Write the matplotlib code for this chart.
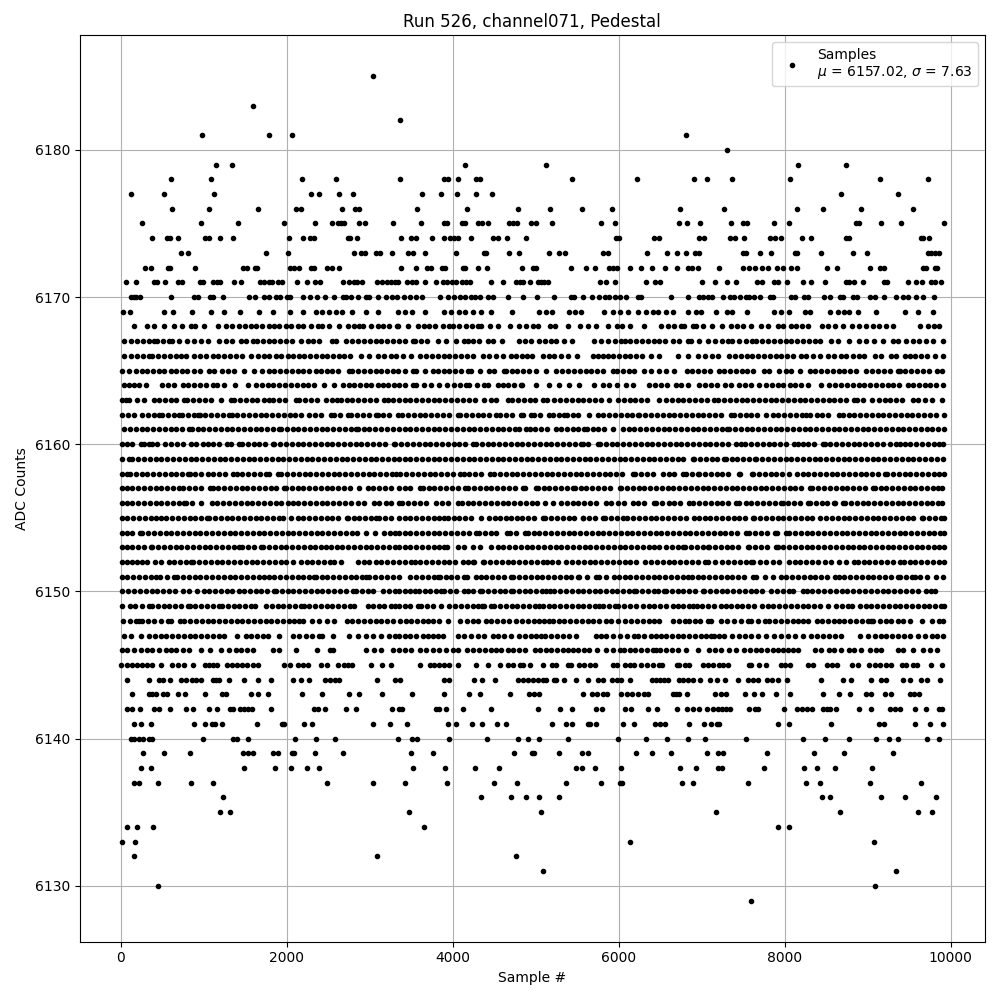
import matplotlib
matplotlib.use('Agg')
import matplotlib.pyplot as plt

# sample numbers, one list per ADC code
s6129 = [7600]
s6130 = [454, 9090]
s6131 = [5090, 9340]
s6132 = [165, 3083, 4760]
s6133 = [13, 177, 9080, 6130]
s6134 = [80, 201, 382, 3650, 7920, 8050]
s6135 = [1190, 1311, 3469, 5063, 7170, 8665, 9606, 9775]
s6136 = [1226, 4338, 4700, 4880, 5037, 5276, 8448, 8545, 9160, 9449, 9823]
s6137 = [153, 225, 454, 840, 1105, 2480, 3043, 3421, 3928, 4494, 4772, 5361, 5783, 6012, 6036, 6760, 6893, 7556, 8255, 8424, 9027, 9642]
s6138 = [249, 358, 1479, 1853, 2046, 2239, 2384, 3518, 3903, 4265, 4555, 5481, 5554, 5711, 6024, 6736, 6933, 7194, 7242, 7749, 8231, 8388, 8605, 9051]
s6139 = [273, 515, 828, 1467, 1528, 1588, 1829, 1889, 2058, 2082, 2336, 2673, 3493, 3759, 4736, 4953, 4977, 5283, 5554, 5626, 6205, 6398, 6627, 7061, 7194, 7254, 7785, 8352, 8714, 9305]
s6140 = [117, 165, 225, 273, 334, 370, 985, 1347, 1395, 1528, 2094, 2348, 2577, 3337, 3505, 3566, 3952, 4410, 4784, 4904, 5037, 5385, 5988, 6326, 6579, 6832, 7037, 7532, 8219, 8484, 8774, 9100, 9256, 9365, 9714, 9859]
s6141 = [153, 249, 358, 888, 1009, 1093, 1130, 1214, 1636, 1938, 1962, 2203, 2300, 3035, 3240, 3445, 3940, 4036, 4229, 4350, 4531, 4639, 5200, 5361, 5433, 5626, 5650, 5723, 6048, 6181, 6434, 6494, 6555, 6844, 7025, 7110, 7182, 7206, 7917, 8050, 8557, 9136, 9196, 9570, 9751, 9907]
s6142 = [80, 129, 237, 406, 466, 587, 780, 876, 1057, 1154, 1311, 1347, 1431, 1479, 1528, 1576, 1805, 2324, 2372, 2456, 2710, 2830, 3264, 3349, 3385, 3795, 3831, 3915, 4121, 4458, 5025, 5288, 5433, 5723, 5795, 6072, 6145, 6350, 6458, 6700, 6820, 6893, 6965, 7061, 7134, 7194, 7242, 7291, 7339, 7568, 7640, 7676, 7990, 8147, 8207, 8267, 8328, 8460, 8508, 8545, 8617, 8894, 9039, 9268, 9329, 9389, 9570, 9702, 9859, 9895]
s6143 = [140, 340, 380, 420, 510, 560, 685, 770, 1010, 1215, 1265, 1565, 1650, 1770, 2180, 2420, 2745, 2865, 3145, 3505, 3890, 4200, 4325, 4690, 4915, 4985, 5045, 5566, 5674, 5740, 5807, 5855, 6030, 6095, 6160, 6229, 6310, 6350, 6650, 6690, 6730, 6820, 7160, 7230, 7295, 7520, 7630, 7725, 7890, 8060, 8460, 8650, 8785, 8975, 9040, 9210, 9285, 9505, 9560, 9615]
s6144 = [70, 335, 455, 505, 590, 725, 785, 860, 905, 965, 1105, 1145, 1185, 1300, 1490, 1650, 1815, 2070, 2170, 2265, 2460, 2520, 2580, 2635, 3085, 3310, 3370, 3900, 3955, 4255, 4350, 4505, 4785, 4845, 4905, 4965, 5025, 5085, 5125, 5225, 5250, 5335, 5480, 5630, 5750, 5810, 5920, 5975, 6030, 6135, 6400, 6450, 6500, 6545, 6590, 6725, 6780, 6835, 6890, 6980, 7100, 7180, 7280, 7435, 7555, 7615, 7675, 7785, 7850, 7920, 8025, 8435, 8700, 8800, 9040, 9160, 9215, 9425, 9510, 9640, 9720, 9870]
s6145 = [0, 80, 130, 190, 255, 315, 375, 480, 615, 690, 765, 865, 1015, 1060, 1105, 1155, 1285, 1345, 1400, 1460, 1515, 1590, 1650, 1970, 2040, 2130, 2190, 2250, 2410, 2490, 2615, 2685, 2735, 2780, 3010, 3150, 3260, 3600, 3720, 3780, 3840, 3900, 3960, 4060, 4275, 4420, 4565, 4665, 4725, 4805, 4845, 4925, 5085, 5200, 5250, 5390, 5430, 5520, 5585, 5650, 5710, 5930, 5980, 6070, 6130, 6190, 6270, 6340, 6410, 6480, 6525, 6700, 6725, 6800, 6850, 7010, 7075, 7140, 7205, 7260, 7315, 7575, 7600, 7690, 7780, 7960, 8000, 8065, 8280, 8345, 8505, 8570, 8635, 8815, 8880, 9020, 9085, 9150, 9215, 9285, 9415, 9465, 9550, 9600, 9765, 9895]
s6146 = [13, 80, 160, 240, 310, 380, 460, 540, 600, 670, 750, 825, 965, 1075, 1205, 1305, 1385, 1450, 1520, 1590, 1830, 1910, 2110, 2370, 2520, 2555, 2955, 3055, 3135, 3280, 3350, 3420, 3500, 3600, 3680, 3760, 3840, 3920, 4000, 4060, 4170, 4250, 4320, 4390, 4460, 4520, 4580, 4660, 4730, 4800, 4875, 4990, 5050, 5120, 5190, 5260, 5325, 5385, 5450, 5515, 5580, 5645, 5735, 5850, 5930, 6010, 6060, 6130, 6200, 6270, 6340, 6410, 6450, 6500, 6570, 6640, 6710, 6810, 6950, 7090, 7160, 7230, 7330, 7410, 7510, 7580, 7650, 7720, 7790, 7860, 7915, 7985, 8040, 8095, 8155, 8360, 8440, 8540, 8600, 8680, 8780, 8840, 8920, 9025, 9095, 9165, 9365, 9425, 9550, 9670, 9750, 9830]
s6147 = [40, 120, 240, 340, 410, 480, 550, 620, 690, 760, 830, 900, 970, 1040, 1110, 1180, 1245, 1405, 1505, 1570, 1640, 1710, 1770, 1910, 2070, 2150, 2230, 2310, 2390, 2430, 2555, 2745, 2855, 2955, 3045, 3135, 3235, 3300, 3355, 3420, 3480, 3560, 3640, 3700, 3760, 3820, 3880, 4060, 4140, 4220, 4300, 4380, 4480, 4540, 4620, 4700, 4800, 4870, 4940, 5000, 5065, 5115, 5185, 5255, 5325, 5400, 5485, 5725, 5790, 5850, 5930, 6010, 6100, 6190, 6230, 6310, 6390, 6450, 6510, 6570, 6640, 6710, 6780, 6850, 6920, 6990, 7050, 7110, 7150, 7210, 7270, 7365, 7450, 7520, 7590, 7675, 7775, 7875, 7955, 8040, 8130, 8215, 8320, 8390, 8460, 8530, 8610, 8680, 8905, 9005, 9085, 9155, 9225, 9295, 9365, 9435, 9505, 9610, 9690, 9770, 9840, 9910]
s6148 = [30, 105, 180, 220, 260, 330, 400, 480, 565, 600, 715, 765, 835, 905, 975, 1045, 1115, 1185, 1255, 1325, 1395, 1465, 1535, 1605, 1675, 1745, 1815, 1885, 1955, 2025, 2090, 2150, 2195, 2310, 2390, 2480, 2575, 2720, 2790, 2860, 2930, 3000, 3070, 3140, 3205, 3275, 3360, 3440, 3500, 3570, 3640, 3700, 3760, 3840, 3940, 4090, 4170, 4240, 4310, 4395, 4465, 4535, 4605, 4680, 4760, 4835, 4905, 4975, 5045, 5105, 5165, 5205, 5275, 5345, 5415, 5485, 5555, 5625, 5695, 5765, 5850, 5910, 5990, 6080, 6150, 6220, 6290, 6360, 6430, 6490, 6650, 6730, 6800, 6850, 6920, 6975, 7070, 7110, 7230, 7310, 7390, 7470, 7555, 7595, 7680, 7765, 7815, 7885, 7955, 8025, 8095, 8155, 8215, 8280, 8385, 8450, 8520, 8590, 8650, 8720, 8790, 8860, 8930, 9000, 9045, 9070, 9150, 9225, 9285, 9360, 9430, 9505, 9655, 9780, 9855, 9905]
s6149 = [10, 110, 175, 255, 340, 375, 445, 515, 585, 655, 725, 805, 830, 900, 970, 1040, 1110, 1185, 1220, 1290, 1360, 1430, 1500, 1570, 1620, 1750, 1820, 1890, 1960, 2030, 2100, 2170, 2210, 2270, 2340, 2410, 2480, 2550, 2620, 2690, 2760, 2815, 2975, 3045, 3115, 3175, 3255, 3310, 3355, 3420, 3490, 3580, 3620, 3690, 3760, 3860, 3950, 4030, 4100, 4170, 4240, 4300, 4355, 4380, 4460, 4500, 4570, 4640, 4710, 4780, 4850, 4920, 4990, 5045, 5085, 5155, 5225, 5295, 5365, 5435, 5505, 5575, 5645, 5715, 5765, 5805, 5880, 5950, 5990, 6060, 6130, 6210, 6290, 6360, 6430, 6500, 6570, 6650, 6710, 6780, 6850, 6900, 6940, 7000, 7075, 7150, 7230, 7290, 7350, 7420, 7490, 7560, 7630, 7725, 7795, 7865, 7935, 8005, 8075, 8145, 8215, 8285, 8355, 8425, 8520, 8615, 8690, 8760, 8815, 8905, 8975, 9045, 9115, 9185, 9255, 9325, 9395, 9465, 9535, 9605, 9675, 9745, 9815, 9885, 9915]
s6150 = [13, 90, 160, 230, 300, 370, 440, 510, 580, 650, 755, 825, 915, 1005, 1065, 1135, 1205, 1275, 1345, 1420, 1485, 1555, 1625, 1695, 1765, 1850, 1870, 1940, 2010, 2080, 2150, 2220, 2290, 2360, 2430, 2500, 2570, 2640, 2710, 2795, 2835, 2905, 2975, 3045, 3165, 3235, 3300, 3355, 3420, 3480, 3540, 3590, 3660, 3730, 3800, 3860, 3900, 3970, 4040, 4140, 4180, 4250, 4330, 4355, 4425, 4495, 4565, 4635, 4700, 4725, 4795, 4865, 4935, 5005, 5075, 5125, 5175, 5225, 5295, 5365, 5435, 5505, 5575, 5645, 5720, 5775, 5845, 5915, 5985, 6055, 6125, 6190, 6210, 6280, 6350, 6430, 6470, 6550, 6570, 6640, 6710, 6780, 6850, 6920, 7010, 7030, 7100, 7170, 7240, 7310, 7380, 7450, 7520, 7590, 7660, 7730, 7835, 7905, 7980, 8055, 8095, 8215, 8265, 8335, 8405, 8475, 8545, 8615, 8685, 8755, 8825, 8895, 8965, 9045, 9110, 9180, 9250, 9320, 9390, 9460, 9530, 9610, 9700, 9760, 9810]
s6151 = [13, 80, 150, 220, 290, 360, 420, 470, 560, 640, 680, 750, 820, 890, 960, 1030, 1100, 1170, 1240, 1310, 1380, 1450, 1520, 1590, 1660, 1730, 1780, 1850, 1920, 1990, 2060, 2130, 2200, 2270, 2330, 2350, 2420, 2490, 2560, 2630, 2700, 2770, 2840, 2910, 2955, 2995, 3065, 3135, 3205, 3275, 3355, 3490, 3560, 3630, 3700, 3770, 3820, 3845, 3915, 3985, 4055, 4140, 4170, 4280, 4335, 4405, 4475, 4545, 4615, 4700, 4730, 4800, 4870, 4940, 5010, 5080, 5150, 5220, 5290, 5360, 5430, 5505, 5525, 5615, 5725, 5760, 5850, 5945, 6000, 6070, 6140, 6210, 6280, 6350, 6420, 6490, 6560, 6630, 6700, 6770, 6830, 6880, 6950, 7020, 7090, 7160, 7230, 7300, 7370, 7440, 7510, 7615, 7660, 7760, 7865, 7950, 8020, 8090, 8160, 8230, 8300, 8370, 8440, 8510, 8610, 8650, 8720, 8790, 8860, 8930, 9000, 9070, 9140, 9210, 9280, 9365, 9385, 9460, 9530, 9575, 9635, 9720, 9820, 9910]
s6152 = [13, 70, 140, 200, 260, 310, 415, 480, 575, 645, 715, 785, 845, 875, 945, 1015, 1085, 1155, 1225, 1295, 1365, 1435, 1505, 1575, 1645, 1715, 1785, 1855, 1925, 1990, 2070, 2170, 2240, 2310, 2380, 2450, 2520, 2575, 2650, 2855, 2925, 2995, 3075, 3135, 3205, 3275, 3355, 3420, 3500, 3540, 3610, 3680, 3750, 3820, 3890, 3960, 4030, 4120, 4180, 4240, 4260, 4360, 4380, 4450, 4520, 4590, 4660, 4730, 4800, 4870, 4940, 5010, 5085, 5130, 5200, 5270, 5360, 5440, 5510, 5580, 5650, 5720, 5790, 5860, 5930, 6000, 6070, 6140, 6210, 6320, 6390, 6460, 6530, 6600, 6670, 6740, 6810, 6880, 6960, 7040, 7070, 7160, 7250, 7320, 7390, 7460, 7530, 7590, 7620, 7700, 7780, 7860, 7935, 8050, 8120, 8190, 8260, 8330, 8400, 8480, 8560, 8650, 8740, 8830, 8880, 8950, 9020, 9090, 9160, 9230, 9300, 9385, 9435, 9505, 9575, 9645, 9715, 9785, 9855, 9915]
s6153 = [13, 70, 140, 210, 280, 360, 380, 450, 520, 590, 660, 730, 800, 870, 940, 1010, 1080, 1150, 1220, 1290, 1360, 1430, 1460, 1530, 1600, 1695, 1715, 1785, 1855, 1925, 1995, 2065, 2135, 2205, 2275, 2345, 2415, 2470, 2530, 2600, 2670, 2740, 2810, 2880, 2950, 3020, 3090, 3160, 3230, 3300, 3355, 3420, 3490, 3560, 3630, 3700, 3770, 3840, 3900, 3930, 4060, 4130, 4250, 4330, 4455, 4540, 4610, 4680, 4750, 4820, 4890, 4960, 5030, 5100, 5170, 5240, 5310, 5380, 5450, 5520, 5590, 5660, 5730, 5800, 5870, 5940, 6010, 6080, 6150, 6220, 6290, 6360, 6430, 6490, 6570, 6640, 6710, 6770, 6800, 6870, 6940, 7010, 7070, 7090, 7160, 7230, 7300, 7370, 7440, 7555, 7575, 7645, 7715, 7785, 7895, 7915, 7985, 8055, 8125, 8195, 8265, 8335, 8405, 8475, 8545, 8615, 8685, 8760, 8820, 8890, 8960, 9030, 9100, 9170, 9240, 9310, 9380, 9450, 9520, 9590, 9660, 9730, 9800, 9860, 9915]
s6154 = [13, 70, 140, 230, 260, 330, 400, 470, 540, 610, 680, 750, 820, 890, 960, 1030, 1100, 1170, 1240, 1310, 1380, 1450, 1520, 1590, 1660, 1730, 1800, 1870, 1940, 2010, 2080, 2150, 2220, 2290, 2360, 2430, 2500, 2570, 2640, 2710, 2780, 2850, 2955, 3065, 3175, 3245, 3310, 3355, 3420, 3490, 3560, 3630, 3700, 3770, 3840, 3910, 3980, 4050, 4120, 4190, 4280, 4315, 4385, 4455, 4525, 4650, 4690, 4760, 4865, 4905, 4975, 5045, 5115, 5185, 5255, 5325, 5395, 5465, 5535, 5605, 5675, 5745, 5815, 5885, 5955, 6025, 6095, 6165, 6235, 6305, 6375, 6445, 6515, 6585, 6655, 6725, 6795, 6865, 6935, 7005, 7075, 7145, 7215, 7285, 7355, 7425, 7530, 7575, 7645, 7715, 7785, 7880, 7905, 8010, 8055, 8125, 8195, 8265, 8335, 8405, 8475, 8545, 8615, 8685, 8755, 8825, 8895, 8965, 9035, 9105, 9175, 9245, 9315, 9385, 9455, 9525, 9595, 9665, 9735, 9805, 9875, 9915]
s6155 = [13, 80, 150, 220, 290, 360, 430, 480, 550, 620, 690, 760, 830, 900, 970, 1035, 1065, 1135, 1205, 1275, 1345, 1415, 1485, 1555, 1625, 1695, 1765, 1835, 1910, 1950, 2050, 2130, 2200, 2270, 2340, 2410, 2480, 2550, 2620, 2720, 2735, 2805, 2875, 2945, 3015, 3075, 3115, 3185, 3255, 3355, 3420, 3490, 3560, 3630, 3700, 3770, 3840, 3900, 3940, 4010, 4080, 4150, 4220, 4340, 4435, 4505, 4575, 4640, 4700, 4770, 4840, 4910, 4980, 5085, 5115, 5185, 5255, 5325, 5395, 5465, 5565, 5575, 5645, 5715, 5805, 5840, 5910, 5980, 6050, 6100, 6175, 6245, 6315, 6385, 6455, 6525, 6595, 6665, 6735, 6805, 6910, 6965, 7035, 7105, 7175, 7245, 7315, 7385, 7455, 7525, 7615, 7635, 7705, 7775, 7845, 7915, 7985, 8055, 8125, 8195, 8265, 8335, 8420, 8500, 8570, 8640, 8710, 8780, 8850, 8920, 8990, 9060, 9130, 9200, 9270, 9340, 9410, 9480, 9550, 9650, 9670, 9740, 9810, 9880, 9915]
s6156 = [13, 70, 140, 210, 280, 350, 420, 490, 560, 630, 700, 765, 790, 860, 965, 1095, 1165, 1235, 1305, 1375, 1445, 1515, 1585, 1655, 1725, 1795, 1865, 1935, 2010, 2070, 2140, 2210, 2280, 2350, 2420, 2490, 2560, 2630, 2700, 2770, 2855, 2935, 3055, 3115, 3195, 3255, 3355, 3390, 3460, 3530, 3600, 3680, 3800, 3870, 3940, 4060, 4110, 4180, 4250, 4320, 4390, 4460, 4530, 4600, 4670, 4740, 4810, 4880, 4950, 5020, 5115, 5205, 5305, 5375, 5445, 5515, 5585, 5655, 5725, 5845, 5910, 5990, 6060, 6170, 6230, 6300, 6430, 6450, 6520, 6610, 6670, 6740, 6850, 6900, 6970, 7040, 7110, 7180, 7250, 7320, 7410, 7450, 7530, 7600, 7670, 7740, 7810, 7880, 7955, 7975, 8045, 8115, 8185, 8280, 8305, 8375, 8445, 8515, 8590, 8610, 8700, 8730, 8800, 8870, 8940, 9010, 9080, 9150, 9220, 9290, 9360, 9430, 9500, 9570, 9640, 9710, 9780, 9850, 9900]
s6157 = [13, 70, 140, 210, 280, 350, 420, 490, 560, 630, 705, 755, 825, 895, 965, 1075, 1105, 1175, 1245, 1315, 1385, 1455, 1525, 1595, 1665, 1735, 1805, 1875, 1970, 1990, 2060, 2130, 2200, 2270, 2340, 2410, 2480, 2550, 2620, 2690, 2760, 2870, 2975, 3045, 3115, 3185, 3255, 3355, 3420, 3490, 3600, 3640, 3710, 3780, 3850, 3920, 3990, 4060, 4150, 4185, 4255, 4325, 4395, 4465, 4535, 4605, 4675, 4745, 4845, 4865, 5005, 5025, 5095, 5165, 5235, 5305, 5375, 5445, 5470, 5540, 5610, 5680, 5750, 5820, 5890, 6010, 6030, 6100, 6170, 6240, 6310, 6380, 6450, 6520, 6590, 6660, 6730, 6800, 6870, 6940, 7010, 7080, 7150, 7220, 7290, 7360, 7430, 7500, 7570, 7640, 7710, 7780, 7850, 7920, 7990, 8060, 8130, 8200, 8305, 8335, 8405, 8475, 8545, 8615, 8685, 8755, 8825, 8895, 8965, 9065, 9085, 9155, 9225, 9295, 9365, 9435, 9505, 9575, 9645, 9715, 9785, 9850, 9890]
s6158 = [13, 80, 110, 180, 250, 320, 390, 460, 530, 600, 670, 740, 805, 830, 900, 970, 1045, 1115, 1185, 1255, 1355, 1395, 1465, 1535, 1605, 1675, 1750, 1780, 1900, 1935, 2005, 2075, 2145, 2215, 2285, 2355, 2425, 2495, 2565, 2635, 2705, 2775, 2845, 2915, 2985, 3055, 3125, 3195, 3265, 3320, 3370, 3440, 3510, 3580, 3650, 3720, 3790, 3860, 3930, 4000, 4090, 4130, 4200, 4270, 4340, 4450, 4500, 4570, 4640, 4710, 4780, 4850, 4920, 4990, 5060, 5130, 5200, 5270, 5340, 5410, 5480, 5550, 5620, 5690, 5760, 5830, 5900, 5970, 6040, 6170, 6200, 6270, 6340, 6410, 6530, 6600, 6670, 6770, 6815, 6885, 6950, 6970, 7040, 7110, 7180, 7250, 7320, 7445, 7465, 7605, 7620, 7690, 7760, 7830, 7900, 7970, 8055, 8145, 8215, 8285, 8355, 8425, 8495, 8565, 8635, 8705, 8775, 8845, 8915, 8985, 9055, 9125, 9205, 9235, 9305, 9375, 9445, 9515, 9585, 9655, 9725, 9795, 9865, 9915]
s6159 = [13, 100, 140, 210, 280, 350, 420, 490, 560, 630, 700, 770, 840, 910, 980, 1050, 1120, 1190, 1260, 1330, 1400, 1470, 1540, 1610, 1680, 1750, 1820, 1890, 1960, 2030, 2100, 2170, 2240, 2310, 2380, 2450, 2520, 2590, 2660, 2730, 2800, 2870, 2940, 3010, 3080, 3150, 3220, 3290, 3355, 3420, 3490, 3560, 3630, 3700, 3770, 3840, 3910, 3980, 4050, 4120, 4190, 4260, 4330, 4400, 4470, 4540, 4610, 4680, 4750, 4820, 4890, 4960, 5030, 5100, 5170, 5240, 5310, 5380, 5450, 5520, 5590, 5660, 5730, 5800, 5870, 5940, 6010, 6080, 6150, 6220, 6290, 6360, 6430, 6500, 6570, 6640, 6710, 6780, 6890, 6910, 6980, 7050, 7120, 7190, 7270, 7290, 7360, 7430, 7500, 7570, 7645, 7660, 7730, 7800, 7870, 7940, 8010, 8080, 8150, 8220, 8290, 8360, 8430, 8500, 8570, 8640, 8710, 8780, 8850, 8920, 8990, 9060, 9130, 9200, 9270, 9340, 9410, 9480, 9550, 9620, 9690, 9760, 9830, 9910]
s6160 = [13, 70, 140, 240, 280, 340, 370, 440, 535, 605, 675, 745, 845, 910, 985, 1045, 1115, 1185, 1275, 1325, 1425, 1460, 1530, 1600, 1670, 1740, 1830, 1850, 1920, 1990, 2060, 2130, 2200, 2270, 2340, 2410, 2480, 2550, 2620, 2690, 2760, 2830, 2900, 2970, 3040, 3110, 3180, 3295, 3300, 3380, 3450, 3520, 3590, 3660, 3730, 3800, 3870, 3940, 4010, 4080, 4150, 4240, 4280, 4350, 4420, 4490, 4560, 4630, 4700, 4770, 4840, 4910, 4980, 5050, 5120, 5190, 5260, 5330, 5400, 5470, 5545, 5565, 5635, 5745, 5775, 5845, 5915, 5985, 6055, 6125, 6195, 6265, 6335, 6405, 6475, 6545, 6615, 6685, 6755, 6825, 6895, 6965, 7035, 7105, 7175, 7245, 7315, 7410, 7470, 7525, 7595, 7665, 7735, 7805, 7875, 7945, 8015, 8115, 8155, 8215, 8285, 8355, 8460, 8480, 8550, 8620, 8690, 8760, 8830, 8900, 8970, 9040, 9110, 9180, 9265, 9345, 9385, 9445, 9515, 9585, 9655, 9725, 9795, 9865, 9910]
s6161 = [40, 110, 180, 250, 320, 390, 460, 530, 600, 670, 740, 825, 855, 925, 995, 1065, 1135, 1205, 1275, 1345, 1415, 1485, 1555, 1625, 1695, 1765, 1835, 1910, 1930, 2000, 2070, 2140, 2210, 2280, 2350, 2420, 2490, 2560, 2630, 2700, 2770, 2835, 2855, 2925, 2995, 3065, 3135, 3205, 3275, 3355, 3420, 3490, 3560, 3630, 3700, 3770, 3840, 3910, 3980, 4050, 4120, 4190, 4260, 4330, 4400, 4470, 4540, 4610, 4680, 4755, 4800, 4885, 4925, 4995, 5065, 5135, 5245, 5305, 5375, 5445, 5515, 5585, 5615, 5685, 5755, 5825, 5930, 6050, 6120, 6190, 6260, 6330, 6400, 6470, 6540, 6610, 6680, 6750, 6820, 6890, 6960, 7030, 7100, 7170, 7240, 7310, 7330, 7400, 7470, 7540, 7610, 7680, 7750, 7820, 7890, 7960, 8030, 8100, 8170, 8240, 8310, 8380, 8450, 8520, 8590, 8660, 8730, 8800, 8870, 8940, 9010, 9080, 9150, 9220, 9290, 9360, 9430, 9500, 9570, 9640, 9710, 9780, 9850, 9915]
s6162 = [13, 90, 160, 260, 330, 400, 460, 500, 570, 640, 700, 740, 810, 880, 925, 950, 1020, 1090, 1160, 1230, 1305, 1335, 1405, 1475, 1545, 1615, 1685, 1755, 1825, 1895, 1965, 2035, 2105, 2175, 2270, 2345, 2415, 2530, 2570, 2640, 2735, 2775, 2845, 2915, 2985, 3075, 3095, 3165, 3235, 3340, 3390, 3460, 3530, 3600, 3670, 3740, 3810, 3880, 3950, 4060, 4090, 4160, 4230, 4300, 4370, 4440, 4520, 4570, 4640, 4710, 4820, 4850, 4945, 4985, 5055, 5165, 5205, 5275, 5345, 5375, 5445, 5515, 5645, 5745, 5815, 5885, 5955, 6025, 6095, 6165, 6230, 6250, 6320, 6390, 6460, 6530, 6600, 6670, 6740, 6810, 6880, 6950, 7020, 7090, 7160, 7230, 7350, 7390, 7460, 7530, 7600, 7670, 7775, 7855, 7925, 7995, 8065, 8135, 8205, 8255, 8305, 8385, 8455, 8525, 8660, 8700, 8770, 8840, 8910, 8980, 9050, 9120, 9190, 9260, 9330, 9400, 9470, 9540, 9610, 9680, 9750, 9820, 9915]
s6163 = [13, 60, 100, 200, 280, 400, 460, 530, 600, 670, 765, 800, 870, 940, 1010, 1085, 1205, 1325, 1365, 1435, 1505, 1575, 1645, 1720, 1790, 1830, 1910, 1980, 2110, 2150, 2220, 2290, 2360, 2470, 2550, 2610, 2650, 2720, 2790, 2860, 2930, 3000, 3070, 3175, 3215, 3285, 3355, 3420, 3490, 3560, 3630, 3700, 3770, 3840, 3910, 3980, 4050, 4120, 4200, 4270, 4380, 4460, 4525, 4660, 4715, 4785, 4855, 4925, 4995, 5085, 5130, 5225, 5295, 5365, 5435, 5505, 5575, 5645, 5715, 5785, 5885, 5990, 6060, 6130, 6200, 6270, 6340, 6490, 6570, 6640, 6710, 6780, 6850, 6920, 6990, 7060, 7150, 7200, 7270, 7340, 7410, 7480, 7550, 7620, 7690, 7760, 7830, 7900, 7970, 8040, 8110, 8180, 8250, 8320, 8390, 8460, 8530, 8600, 8670, 8740, 8840, 8870, 8940, 9055, 9135, 9205, 9275, 9345, 9415, 9545, 9610, 9690, 9770, 9890]
s6164 = [40, 100, 160, 220, 300, 500, 570, 645, 745, 815, 885, 955, 1030, 1105, 1165, 1245, 1380, 1530, 1630, 1700, 1770, 1840, 1910, 1980, 2050, 2120, 2190, 2260, 2330, 2450, 2575, 2675, 2745, 2815, 2885, 2955, 3015, 3095, 3155, 3225, 3295, 3355, 3420, 3520, 3560, 3650, 3740, 3830, 3930, 4020, 4090, 4160, 4200, 4290, 4380, 4420, 4540, 4600, 4670, 4740, 4820, 4840, 5000, 5155, 5285, 5405, 5525, 5705, 5805, 5885, 5985, 6090, 6175, 6370, 6440, 6510, 6580, 6690, 6750, 6830, 6970, 7040, 7110, 7180, 7280, 7350, 7450, 7520, 7590, 7695, 7775, 7845, 7915, 7985, 8060, 8130, 8200, 8280, 8440, 8540, 8610, 8680, 8750, 8820, 8890, 8960, 9030, 9100, 9170, 9240, 9310, 9380, 9485, 9545, 9615, 9685, 9755, 9825, 9910]
s6165 = [13, 100, 180, 260, 320, 390, 460, 520, 600, 670, 740, 800, 885, 960, 1065, 1125, 1225, 1295, 1365, 1485, 1610, 1700, 1790, 1850, 1920, 1990, 2060, 2130, 2200, 2270, 2350, 2410, 2480, 2550, 2620, 2750, 2790, 2860, 2930, 3000, 3070, 3140, 3210, 3275, 3340, 3420, 3520, 3560, 3660, 3760, 3820, 3890, 3960, 4030, 4100, 4180, 4220, 4330, 4440, 4500, 4620, 4640, 4710, 4780, 4850, 4920, 5000, 5120, 5240, 5320, 5390, 5460, 5530, 5600, 5670, 5740, 5810, 5930, 5980, 6050, 6120, 6190, 6310, 6390, 6480, 6570, 6670, 6820, 6885, 6955, 7025, 7095, 7210, 7270, 7340, 7410, 7480, 7550, 7620, 7755, 7815, 7935, 8010, 8075, 8190, 8300, 8360, 8440, 8510, 8580, 8650, 8720, 8790, 8860, 8985, 9055, 9125, 9195, 9265, 9365, 9385, 9455, 9525, 9595, 9665, 9735, 9830, 9890]
s6166 = [40, 120, 200, 270, 340, 380, 450, 520, 590, 660, 720, 790, 885, 955, 1025, 1105, 1175, 1245, 1315, 1385, 1465, 1570, 1650, 1720, 1790, 1870, 1930, 2010, 2080, 2150, 2210, 2280, 2350, 2420, 2490, 2560, 2630, 2690, 2765, 2895, 2995, 3095, 3175, 3255, 3315, 3400, 3500, 3610, 3680, 3750, 3820, 3890, 3960, 4030, 4100, 4170, 4240, 4360, 4440, 4520, 4600, 4700, 4760, 4830, 4900, 4960, 5085, 5155, 5225, 5305, 5385, 5495, 5685, 5745, 5810, 5870, 5930, 6000, 6070, 6140, 6210, 6280, 6390, 6490, 6710, 6830, 6950, 7040, 7130, 7200, 7330, 7400, 7470, 7540, 7610, 7680, 7750, 7820, 7890, 7960, 8030, 8100, 8200, 8260, 8340, 8420, 8520, 8600, 8680, 8740, 8820, 8890, 8960, 9085, 9165, 9285, 9345, 9445, 9505, 9575, 9645, 9715, 9810, 9910]
s6167 = [40, 120, 200, 270, 340, 400, 440, 510, 580, 620, 700, 800, 880, 965, 1045, 1185, 1265, 1340, 1445, 1505, 1590, 1636, 1710, 1780, 1850, 1920, 1990, 2060, 2170, 2250, 2320, 2390, 2550, 2590, 2710, 2790, 2860, 2930, 3000, 3070, 3140, 3210, 3280, 3350, 3420, 3520, 3550, 3620, 3690, 3820, 3920, 4040, 4140, 4180, 4250, 4320, 4420, 4490, 4590, 4795, 4870, 4945, 5040, 5115, 5185, 5245, 5340, 5440, 5707, 5790, 5870, 5950, 6030, 6070, 6140, 6210, 6280, 6350, 6420, 6490, 6560, 6650, 6730, 6830, 6870, 6970, 7070, 7160, 7240, 7320, 7365, 7450, 7530, 7605, 7660, 7730, 7800, 7870, 7940, 8010, 8080, 8150, 8220, 8290, 8360, 8430, 8560, 8640, 8770, 8900, 8975, 9080, 9190, 9305, 9365, 9465, 9550, 9620, 9700, 9790, 9910]
s6168 = [153, 313, 402, 523, 643, 743, 844, 896, 997, 1166, 1267, 1340, 1420, 1500, 1568, 1628, 1700, 1780, 1850, 1910, 1990, 2050, 2130, 2200, 2290, 2372, 2420, 2512, 2633, 2734, 2810, 2874, 2915, 3015, 3095, 3156, 3228, 3329, 3337, 3458, 3578, 3659, 3719, 3790, 3880, 3960, 4000, 4080, 4160, 4230, 4301, 4341, 4454, 4542, 4691, 4803, 4884, 4964, 5024, 5177, 5237, 5386, 5530, 5630, 5727, 5868, 5976, 6040, 6140, 6309, 6510, 6590, 6670, 6751, 6787, 6890, 6930, 7017, 7130, 7240, 7350, 7420, 7500, 7590, 7714, 7800, 7915, 7975, 8075, 8137, 8210, 8278, 8451, 8520, 8610, 8700, 8810, 8900, 8980, 9060, 9140, 9220, 9306, 9628, 9729, 9797, 9862]
s6169 = [30, 110, 520, 630, 860, 1090, 1240, 1440, 1660, 1830, 2040, 2190, 2350, 2430, 2510, 2590, 2670, 2790, 2950, 3100, 3340, 3420, 3510, 3660, 3900, 3980, 4070, 4150, 4240, 4340, 4460, 4720, 5040, 5120, 5200, 5400, 5470, 5540, 5820, 5930, 6010, 6110, 6230, 6330, 6410, 6470, 6570, 6650, 6840, 6930, 6990, 7170, 7310, 7370, 7545, 7875, 7955, 8055, 8250, 8305, 8550, 8640, 8710, 8780, 8880, 9105, 9455, 9610, 9790]
s6170 = [117, 153, 189, 237, 603, 888, 925, 1069, 1105, 1226, 1540, 1612, 1721, 1781, 1865, 1913, 1998, 2034, 2191, 2275, 2360, 2456, 2565, 2673, 2710, 2770, 2854, 2951, 2987, 3095, 3192, 3264, 3325, 3409, 3481, 3554, 3626, 3843, 3940, 4012, 4084, 4145, 4217, 4265, 4326, 4422, 4482, 4663, 4844, 5013, 5216, 5421, 5457, 5566, 5674, 5759, 5831, 5879, 5952, 6012, 6084, 6229, 6265, 6627, 6832, 6965, 7013, 7073, 7121, 7254, 7339, 7387, 7459, 7532, 7568, 7628, 7700, 7821, 7857, 8074, 8123, 8231, 8279, 8472, 8545, 8665, 8701, 8822, 8870, 9027, 9087, 9196, 9341, 9425, 9485, 9586, 9666, 9799]
s6171 = [68, 189, 394, 442, 527, 695, 732, 949, 985, 1105, 1154, 1190, 1359, 1443, 1672, 1721, 1781, 1817, 1889, 1938, 2119, 2239, 2336, 2396, 2673, 2746, 2806, 2842, 2902, 3083, 3144, 3204, 3252, 3300, 3337, 3445, 3506, 3554, 3662, 3795, 3879, 3928, 3988, 4036, 4109, 4157, 4205, 4458, 4603, 4760, 4808, 4844, 4929, 5025, 5063, 5103, 5144, 5771, 5843, 5952, 6326, 6434, 6494, 7001, 7158, 7303, 7411, 7664, 7725, 7869, 7917, 8026, 8219, 8316, 8484, 8738, 8775, 8834, 8943, 9196, 9232, 9485, 9582, 9654, 9763, 9811, 9883]
s6172 = [297, 358, 563, 587, 900, 1467, 1515, 1612, 1636, 2034, 2082, 2143, 2287, 2324, 2480, 2541, 2625, 3373, 3554, 3686, 3735, 3867, 3903, 4121, 4145, 4301, 4410, 4832, 4965, 5001, 5421, 5602, 5711, 5879, 5928, 5976, 6133, 6265, 6398, 6555, 6699, 6832, 6880, 6953, 7206, 7495, 7568, 7640, 7725, 7797, 7905, 7978, 8074, 8147, 8508, 8629, 9027, 9148, 9196, 9666, 9702, 9811, 9835]
s6173 = [720, 804, 1745, 2010, 2806, 2890, 2939, 3071, 3120, 3264, 3457, 3518, 3662, 4036, 4374, 4398, 4679, 4796, 5156, 5276, 5349, 5807, 5867, 6338, 6579, 6699, 6808, 6917, 6965, 7495, 7532, 7700, 7833, 8123, 8147, 8436, 8822, 8991, 9727, 9763, 9811, 9859]
s6174 = [370, 551, 587, 695, 1009, 1057, 1190, 1347, 2022, 2191, 2275, 2324, 2734, 2758, 2842, 3373, 3493, 3554, 3747, 3891, 3964, 4012, 4060, 4217, 4482, 4543, 4651, 4880, 5964, 6000, 6422, 6482, 6965, 7025, 7339, 7399, 7508, 7821, 7881, 7954, 8207, 8316, 8738, 8775, 9642, 9666, 9739]
s6175 = [261, 961, 1407, 1962, 2336, 2541, 2613, 2649, 2685, 2866, 2939, 3276, 3614, 3891, 3928, 4109, 4145, 4301, 4350, 4422, 4675, 4724, 4772, 4941, 5001, 5192, 5783, 5952, 6724, 6820, 6977, 7351, 7495, 7544, 7869, 8050, 8858, 8894, 9160, 9401, 9918]
s6176 = [611, 1057, 1648, 2106, 2167, 2661, 2818, 2866, 3566, 4169, 4784, 5168, 5554, 5916, 6736, 7266, 8147, 8460, 8919, 9546]
s6177 = [117, 515, 1118, 2287, 2384, 2625, 2794, 3626, 3855, 4048, 4277, 4470, 8677, 9365]
s6178 = [599, 1081, 2179, 2589, 3360, 3891, 3940, 4060, 4281, 4326, 5433, 6217, 6905, 7061, 7363, 8062, 9148, 9727]
s6179 = [1142, 1335, 4145, 5120, 8159, 8738]
s6180 = [7303]
s6181 = [973, 1781, 2058, 6808]
s6182 = [3360]
s6183 = [1588]
s6185 = [3035]

adc_codes = [6129, 6130, 6131, 6132, 6133, 6134, 6135, 6136, 6137, 6138, 6139, 6140, 6141, 6142, 6143, 6144, 6145,
             6146, 6147, 6148, 6149, 6150, 6151, 6152, 6153, 6154, 6155, 6156, 6157, 6158, 6159, 6160, 6161, 6162,
             6163, 6164, 6165, 6166, 6167, 6168, 6169, 6170, 6171, 6172, 6173, 6174, 6175, 6176, 6177, 6178, 6179,
             6180, 6181, 6182, 6183, 6185]
rows = [s6129, s6130, s6131, s6132, s6133, s6134, s6135, s6136, s6137, s6138, s6139, s6140, s6141, s6142, s6143, s6144, s6145,
        s6146, s6147, s6148, s6149, s6150, s6151, s6152, s6153, s6154, s6155, s6156, s6157, s6158, s6159, s6160, s6161, s6162,
        s6163, s6164, s6165, s6166, s6167, s6168, s6169, s6170, s6171, s6172, s6173, s6174, s6175, s6176, s6177, s6178, s6179,
        s6180, s6181, s6182, s6183, s6185]

samples = []
counts = []
for code, row in zip(adc_codes, rows):
    samples += row
    counts += [code] * len(row)

fig, ax = plt.subplots(figsize=(10, 10))
ax.plot(samples, counts, 'k.', label='Samples\n$\\mu$ = 6157.02, $\\sigma$ = 7.63')
ax.set_title('Run 526, channel071, Pedestal')
ax.set_xlabel('Sample #')
ax.set_ylabel('ADC Counts')
ax.ticklabel_format(useOffset=False, axis='y')
ax.grid(True)
ax.legend(loc='upper right')
fig.tight_layout()
fig.subplots_adjust(top=0.965)
fig.savefig('out.png', dpi=100)
